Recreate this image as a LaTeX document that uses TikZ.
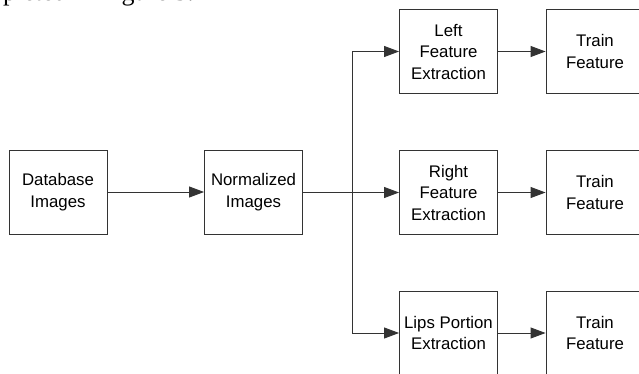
\documentclass[tikz,border=0pt]{standalone}
\usepackage{fontspec}
\setmainfont{Liberation Sans}
\newfontfamily\textserif{Liberation Serif}
\usetikzlibrary{arrows.meta}

\tikzset{
  block/.style={draw=black!80, line width=0.9pt, minimum width=98pt, minimum height=84pt,
    inner sep=0pt, align=center, font=\fontsize{16.8}{21.5}\selectfont},
  arr/.style={draw=black!80, line width=0.9pt, -{Triangle[length=15pt,width=11pt]}},
  wire/.style={draw=black!80, line width=0.9pt}
}

\begin{document}
\begin{tikzpicture}[x=1pt,y=-1pt]
        \useasboundingbox (0,0) rectangle (639,373);

        % text line of the page above, cut by the frame
        \node[anchor=base west, inner sep=0pt, font=\textserif\fontsize{26}{30}\selectfont] (above) at (3,0.4) {pleted in Figure 3.};

        % input side
        \node[block] (db) at (58,192) {Database\\Images};
        \node[block] (norm) at (253.5,192) {Normalized\\Images};

        % extraction blocks
        \node[block] (left) at (448.5,51.5) {Left\\Feature\\Extraction};
        \node[block] (right) at (448.5,192.5) {Right\\Feature\\Extraction};
        \node[block] (lips) at (448.5,333) {Lips Portion\\Extraction};

        % training blocks
        \node[block] (trainA) at (595,51.5) {Train\\Feature};
        \node[block] (trainB) at (595,192.5) {Train\\Feature};
        \node[block] (trainC) at (595,333) {Train\\Feature};

        % split point
        \coordinate (split) at (352,192.5);

        % Arrows
        \draw[arr] (db) -- (norm);
        \draw[arr] (norm.east |- split) -- (right);
        \draw[arr] (split) |- (left);
        \draw[arr] (split) |- (lips);

        \draw[arr] (left) -- (trainA);
        \draw[arr] (right) -- (trainB);
        \draw[arr] (lips) -- (trainC);
\end{tikzpicture}
\end{document}
